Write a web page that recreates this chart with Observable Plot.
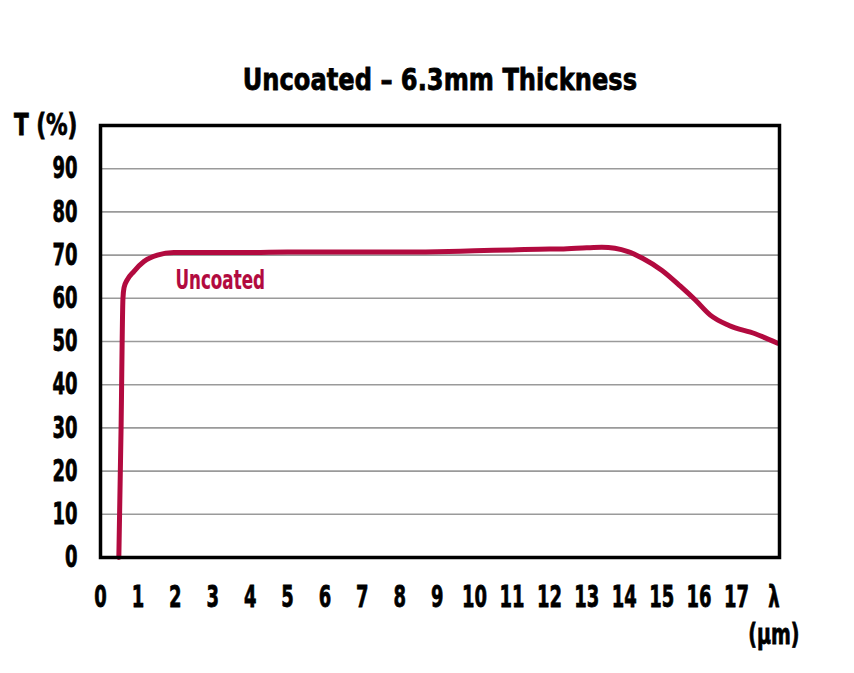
<!DOCTYPE html>
<html>
<head>
<meta charset="utf-8">
<script src="https://cdn.jsdelivr.net/npm/d3@7"></script>
<script src="https://cdn.jsdelivr.net/npm/@observablehq/plot@0.6"></script>
<style>
  html, body { margin: 0; padding: 0; background: #fff; }
  #wrap { width: 854px; height: 673px; position: relative; overflow: hidden; }
  #title {
    height: 100px; box-sizing: border-box; padding-top: 63px;
    text-align: center; padding-left: 25px; white-space: nowrap;
    font-family: "DejaVu Sans", "Liberation Sans", sans-serif;
    font-weight: bold; font-size: 30px; line-height: 34px; color: #000;
  }
  #title span { display: inline-block; transform: scaleX(0.805); -webkit-text-stroke: 0.8px #000; }
</style>
</head>
<body>
<div id="wrap">
  <div id="title"><span>Uncoated – 6.3mm Thickness</span></div>
  <div id="chart"></div>
</div>
<script>
// Wavelength (µm) and transmission (%)
const wavelength = [0.49, 0.55, 0.60, 0.63, 0.71, 0.89, 1.16, 1.52, 1.96, 3, 4, 5, 6, 7, 8, 9, 10, 11, 12, 12.3, 13, 13.4, 14.1, 14.5, 15.0, 15.5, 15.9, 16.3, 16.8, 17.5, 18.1];
const transmission = [0, 30, 60, 62.5, 64.2, 66.2, 68.5, 70.0, 70.6, 70.6, 70.6, 70.7, 70.7, 70.7, 70.7, 70.8, 71.0, 71.2, 71.4, 71.4, 71.7, 71.8, 70.8, 69.2, 66.5, 62.8, 59.6, 56.1, 53.7, 51.8, 49.6];

const xTicks = [0, 1, 2, 3, 4, 5, 6, 7, 8, 9, 10, 11, 12, 13, 14, 15, 16, 17, 18];
const xTickLabels = ["0", "1", "2", "3", "4", "5", "6", "7", "8", "9", "10", "11", "12", "13", "14", "15", "16", "17", "λ"];
const yTicks = [0, 10, 20, 30, 40, 50, 60, 70, 80, 90, 100];
const yTickLabels = ["0", "10", "20", "30", "40", "50", "60", "70", "80", "90", "T (%)"];
const gridValues = [10, 20, 30, 40, 50, 60, 70, 80, 90];
const unitLabel = "(μm)";
const seriesName = "Uncoated";
const seriesLabelPos = [{x: 3.2, y: 64.2, label: seriesName}];

const data = wavelength.map((w, i) => ({w, t: transmission[i]}));
const red = "#b20a3f";
const font = '"DejaVu Sans", "Liberation Sans", sans-serif';

const chart = Plot.plot({
  width: 854,
  height: 573,
  marginTop: 25,
  marginLeft: 100,
  marginRight: 75,
  marginBottom: 116,
  style: {fontFamily: font, fontSize: "30px", fontWeight: "bold", color: "#000", background: "#fff"},
  x: {domain: [0, 18.15]},
  y: {domain: [0, 100]},
  marks: [
    Plot.gridY(gridValues, {stroke: "#9a9a9a", strokeOpacity: 1, strokeWidth: 1.6}),
    Plot.line(data, {x: "w", y: "t", stroke: red, strokeWidth: 5, curve: "monotone-x"}),
    Plot.text(seriesLabelPos, {x: "x", y: "y", text: "label", fill: red, fontSize: 27, fontWeight: "bold", textAnchor: "middle"}),
    Plot.frame({stroke: "#000", strokeWidth: 3.5}),
    Plot.axisX(xTicks, {tickSize: 0, tickPadding: 28, tickFormat: (d) => xTickLabels[xTicks.indexOf(d)], label: null, fontSize: 30}),
    Plot.axisX([18], {tickSize: 0, tickPadding: 67, tickFormat: () => unitLabel, label: null, fontSize: 28}),
    Plot.axisY(yTicks, {tickSize: 0, tickPadding: 23, tickFormat: (d) => yTickLabels[yTicks.indexOf(d)], label: null, fontSize: 30})
  ]
});

// condense the glyphs horizontally (the reference uses a condensed typeface)
const squeeze = {"T (%)": 0.72, "(μm)": 0.68, "Uncoated": 0.62};
chart.querySelectorAll("text").forEach((t) => {
  const s = squeeze[t.textContent] ?? 0.6;
  const tr = t.getAttribute("transform");
  if (tr) t.setAttribute("transform", `${tr} scale(${s},1)`);
  else {
    const x = parseFloat(t.getAttribute("x")) || 0;
    t.setAttribute("transform", `translate(${x},0) scale(${s},1) translate(${-x},0)`);
  }
  const fill = t.textContent === seriesName ? red : "#000";
  t.style.stroke = fill;
  t.style.strokeWidth = t.textContent === seriesName ? "0.2px" : "0.8px";
});
document.getElementById("chart").appendChild(chart);
</script>
</body>
</html>
